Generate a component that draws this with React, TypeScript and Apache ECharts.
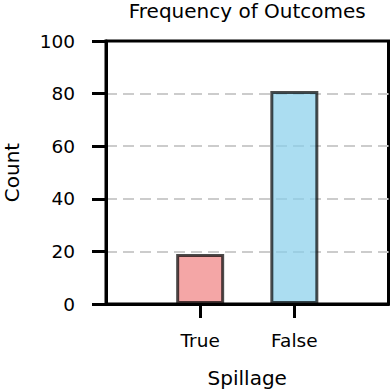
import React, { useEffect, useRef } from "react";
import * as echarts from "echarts";

const categories = ["True", "False"];
const counts = [19, 81];
const barColors = ["rgba(240,128,128,0.7)", "rgba(135,206,235,0.7)"];
const yTicks = [0, 20, 40, 60, 80, 100];
const titleText = "Frequency of Outcomes";
const xName = "Spillage";
const yName = "Count";

const FONT = "DejaVu Sans";

export default function App() {
  const ref = useRef<HTMLDivElement>(null);
  useEffect(() => {
    if (!ref.current) return;
    const chart = echarts.init(ref.current, null, { renderer: "svg" });
    const gridLeft = 106;
    const gridRight = 1.5;
    const plotCenter = gridLeft + (390 - gridLeft - gridRight) / 2;
    // padded category list: an empty slot on each side of the real categories
    const xCats = ["", ...categories, ""];
    const isReal = (i: number) => i >= 1 && i <= categories.length;
    chart.setOption({
      animation: false,
      backgroundColor: "#ffffff",
      grid: {
        left: gridLeft,
        right: gridRight,
        top: 41,
        bottom: 86,
        outerBoundsMode: "none",
        containLabel: false,
        show: true,
        borderColor: "#000000",
        borderWidth: 3,
        backgroundColor: "transparent",
      },
      graphic: [
        {
          type: "text",
          x: plotCenter,
          y: 11,
          style: {
            text: titleText,
            fontFamily: FONT,
            fontSize: 20,
            fill: "#000000",
            textAlign: "center",
            textVerticalAlign: "middle",
          },
        },
      ],
      xAxis: {
        type: "category",
        data: xCats,
        boundaryGap: false,
        name: xName,
        nameLocation: "middle",
        nameGap: 64,
        nameTextStyle: { fontFamily: FONT, fontSize: 20, color: "#000000" },
        axisLine: { show: true, onZero: false, lineStyle: { color: "#000000", width: 3 } },
        axisTick: {
          show: true,
          alignWithLabel: true,
          length: 14,
          interval: (i: number) => isReal(i),
          lineStyle: { color: "#000000", width: 3 },
        },
        axisLabel: {
          show: true,
          margin: 27,
          interval: (i: number) => isReal(i),
          fontFamily: FONT,
          fontSize: 18.5,
          color: "#000000",
        },
        splitLine: { show: false },
      },
      yAxis: {
        type: "value",
        min: 0,
        max: 100,
        interval: 20,
        name: yName,
        nameLocation: "middle",
        nameGap: 84,
        nameRotate: 90,
        nameTextStyle: { fontFamily: FONT, fontSize: 20, color: "#000000" },
        axisLine: { show: true, onZero: false, lineStyle: { color: "#000000", width: 3 } },
        axisTick: {
          show: true,
          length: 14,
          lineStyle: { color: "#000000", width: 3 },
        },
        axisLabel: {
          margin: 31,
          fontFamily: FONT,
          fontSize: 18.5,
          color: "#000000",
          formatter: (v: number) => (yTicks.includes(v) ? String(v) : ""),
        },
        splitLine: {
          show: true,
          showMinLine: false,
          showMaxLine: false,
          lineStyle: { color: "#cccccc", width: 2, type: [11, 6] },
        },
      },
      series: [
        {
          type: "bar",
          barWidth: 48,
          data: xCats.map((_, i) =>
            isReal(i)
              ? {
                  value: counts[i - 1],
                  itemStyle: {
                    color: barColors[i - 1],
                    borderColor: "rgba(0,0,0,0.7)",
                    borderWidth: 3,
                  },
                }
              : "-"
          ),
        },
      ],
    });
    return () => chart.dispose();
  }, []);
  return (
    <div
      ref={ref}
      style={{ position: "fixed", left: 0, top: 0, width: 390, height: 390 }}
    />
  );
}
